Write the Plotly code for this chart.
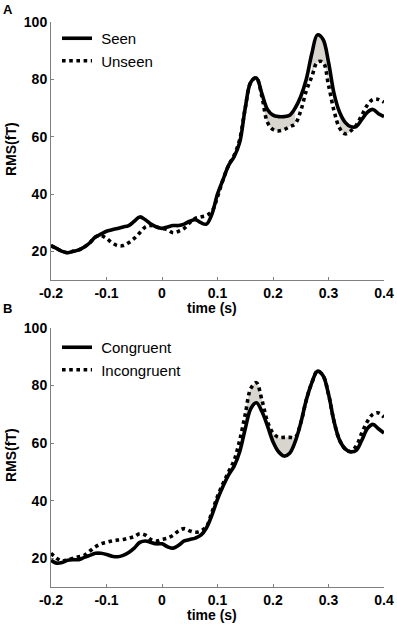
import numpy as np
import plotly.graph_objects as go

# ---------------- data ----------------
time_s = [round(-0.20 + 0.01 * i, 2) for i in range(61)]

seen = [22, 21, 20, 19.5, 20, 20.5, 21.5, 23, 25, 26,
        27, 27.5, 28, 28.5, 29, 30.5, 32, 31, 29.5, 28.5,
        28, 28.5, 29, 29, 29.5, 30.5, 31, 30, 29.5, 33,
        40, 45, 50, 53, 58, 70, 79, 80.5, 75, 69.5,
        67.5, 67, 67, 67.5, 70, 74, 80, 89, 95.5, 94,
        86, 75, 68.5, 65, 63.5, 63.5, 66, 68.5, 69.5, 68,
        67]

unseen = [22, 21, 20, 19.5, 20, 20.5, 21.5, 23, 25, 25.5,
          24.5, 23, 22, 22, 23, 24.5, 26.5, 28.5, 29, 28.5,
          28, 27.5, 26.5, 27, 28, 30, 31.5, 32, 32.5, 34,
          39, 45, 50, 53.5, 59, 70, 79, 80.5, 74, 65,
          62.5, 62, 62.5, 63.5, 64.5, 69, 76, 81, 86, 86,
          78, 69, 63, 61, 62, 64, 67.5, 71, 73, 73,
          72]

congruent = [19.3, 18.3, 18.5, 19.3, 19.5, 19.5, 20.3, 21, 21.7, 21.7,
             21.3, 20.7, 20.5, 21, 22, 23.5, 25.5, 26, 25.5, 25,
             25, 24, 23.5, 24.5, 26, 26.5, 27, 28, 30.5, 35,
             40.5, 45, 49, 52, 57, 65, 72, 74, 71, 66,
             60.5, 57, 55.5, 56.5, 60.5, 67, 75, 81, 85, 83.5,
             77, 67.5, 61, 58, 57, 57.5, 61, 65, 66.5, 65,
             63.5]

incongruent = [21.7, 20, 19, 19.5, 20, 20.5, 21, 22.5, 24, 25,
               25.5, 26, 26.3, 26.5, 27, 27.5, 28.5, 28, 26.5, 26,
               26.5, 27, 28, 29.5, 30.3, 29.5, 29, 29.5, 31, 36,
               41.5, 46, 50, 54, 61, 70, 79, 81, 75, 67.5,
               63.5, 62, 62, 62, 62, 67, 75, 81, 85, 83.5,
               77, 67.5, 61, 58, 57, 59, 63.5, 67.5, 70, 70.5,
               69]

# significant-difference windows (shaded between the curves)
shade_A = [(0.18, 0.24), (0.27, 0.30), (0.32, 0.34)]
shade_B = [(0.15, 0.18), (0.19, 0.24)]

x_ticks = [-0.2, -0.1, 0, 0.1, 0.2, 0.3, 0.4]
x_tick_labels = ["-0.2", "-0.1", "0", "0.1", "0.2", "0.3", "0.4"]
y_ticks = [20, 40, 60, 80, 100]
y_tick_labels = ["20", "40", "60", "80", "100"]

# ---------------- figure ----------------
FONT = "Liberation Sans, Arial, sans-serif"
FILL = "#d8d5ce"
LW = 3.6

fig = go.Figure()
t = np.array(time_s)


def add_panel(fig, xa, ya, solid, dotted, names, shades, legend):
    s = np.array(solid, dtype=float)
    d = np.array(dotted, dtype=float)
    for a, b in shades:
        m = (t >= a - 1e-9) & (t <= b + 1e-9)
        fig.add_trace(go.Scatter(x=t[m], y=d[m], mode="lines", line=dict(width=0, shape="spline"),
                                 xaxis=xa, yaxis=ya, showlegend=False, hoverinfo="skip"))
        fig.add_trace(go.Scatter(x=t[m], y=s[m], mode="lines", line=dict(width=0, shape="spline"),
                                 fill="tonexty", fillcolor=FILL,
                                 xaxis=xa, yaxis=ya, showlegend=False, hoverinfo="skip"))
    fig.add_trace(go.Scatter(x=t, y=d, mode="lines", name="\u00a0" + names[1],
                             line=dict(color="black", width=LW, dash="dot", shape="spline"),
                             xaxis=xa, yaxis=ya, legend=legend, legendgroup=names[1], legendrank=2))
    fig.add_trace(go.Scatter(x=t, y=s, mode="lines", name="\u00a0" + names[0],
                             line=dict(color="black", width=LW, shape="spline"),
                             xaxis=xa, yaxis=ya, legend=legend, legendgroup=names[0], legendrank=1))


add_panel(fig, "x", "y", seen, unseen, ["Seen", "Unseen"], shade_A, "legend")
add_panel(fig, "x2", "y2", congruent, incongruent, ["Congruent", "Incongruent"], shade_B, "legend2")

W, H = 397, 626
x_dom = [51 / W, 384 / W]
yA = [1 - 280 / H, 1 - 22 / H]
yB = [1 - 587 / H, 1 - 328 / H]

axis_common = dict(showgrid=False, zeroline=False, showline=True, linecolor="#7f7f7f", linewidth=1,
                   ticks="inside", ticklen=3, tickcolor="#7f7f7f", tickwidth=1, automargin=False,
                   tickfont=dict(family=FONT, size=14, color="black", weight="bold"))

fig.update_layout(
    width=W, height=H, margin=dict(l=0, r=0, t=0, b=0, autoexpand=False),
    paper_bgcolor="white", plot_bgcolor="white",
    xaxis=dict(domain=x_dom, anchor="y", range=[-0.2, 0.4], tickvals=x_ticks, ticktext=x_tick_labels, **axis_common),
    yaxis=dict(domain=yA, anchor="x", range=[10, 100], tickvals=y_ticks, ticktext=y_tick_labels, **axis_common),
    xaxis2=dict(domain=x_dom, anchor="y2", range=[-0.2, 0.4], tickvals=x_ticks, ticktext=x_tick_labels, **axis_common),
    yaxis2=dict(domain=yB, anchor="x2", range=[10, 100], tickvals=y_ticks, ticktext=y_tick_labels, **axis_common),
    legend=dict(x=57 / W, y=1 - 22 / H, xanchor="left", yanchor="top", bgcolor="rgba(0,0,0,0)",
                font=dict(family=FONT, size=15, color="black"), itemwidth=30, tracegroupgap=0,
                traceorder="grouped"),
    legend2=dict(x=57 / W, y=1 - 331 / H, xanchor="left", yanchor="top", bgcolor="rgba(0,0,0,0)",
                 font=dict(family=FONT, size=15, color="black"), itemwidth=30, tracegroupgap=0,
                 traceorder="grouped"),
    showlegend=True,
)

ann_font = dict(family=FONT, size=14, color="black", weight="bold")
lab_font = dict(family=FONT, size=13, color="black", weight="bold")


def ann(text, px, py, font, angle=0):
    return dict(text=text, x=px / W, y=1 - py / H, xref="paper", yref="paper", showarrow=False,
                xanchor="center", yanchor="middle", textangle=angle, font=font)


annotations = [
    ann("A", 8, 9, lab_font),
    ann("B", 7, 309, lab_font),
    ann("RMS(fT)", 11, 149, ann_font, -90),
    ann("RMS(fT)", 11, 455, ann_font, -90),
    ann("time (s)", 212, 308, ann_font),
    ann("time (s)", 212, 615, ann_font),
]
fig.update_layout(annotations=annotations)

fig.write_html("out.html", config={"displayModeBar": False},
               post_script="document.body.style.margin='0';document.body.style.overflow='hidden';")
